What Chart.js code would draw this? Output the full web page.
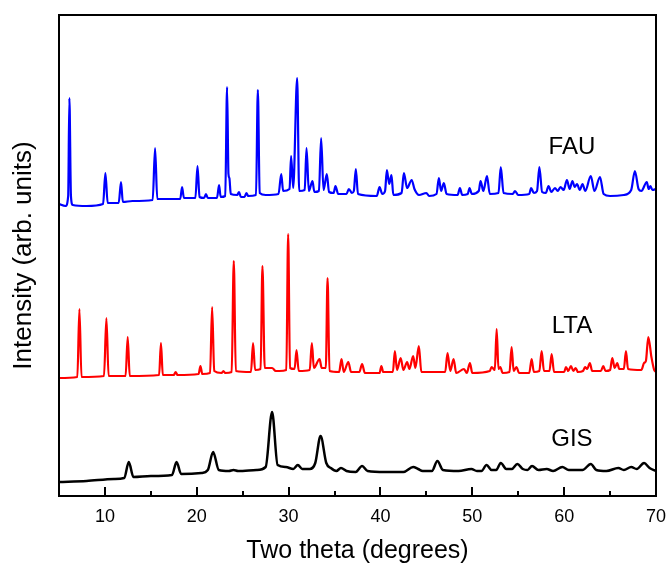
<!DOCTYPE html>
<html>
<head>
<meta charset="utf-8">
<script src="https://cdn.jsdelivr.net/npm/chart.js@4.4.1/dist/chart.umd.min.js"></script>
<style>
  body { margin: 0; background: #fff; overflow: hidden; }
  #wrap { width: 670px; height: 570px; }
</style>
</head>
<body>
<div id="wrap"><canvas id="xrd-chart"></canvas></div>
<script>
// two theta (deg), intensity (arb. units, offset stacked)
var fauPoints = [
  [5.0,292],[5.7,290],[6.0,300],[6.13,398],[6.3,300],[6.5,291],[8.0,290],[9.8,292],[10.05,323],[10.3,293],
  [11.5,293],[11.75,314],[11.95,294],[13.0,295],[15.2,296],[15.46,348],[15.7,297],[18.2,297],[18.4,309],[18.6,298],
  [19.85,298],[20.08,330],[20.3,299],[20.8,298],[21.0,302],[21.2,298],[22.2,298],[22.43,311],[22.6,299],[23.1,300],
  [23.3,409],[23.45,322],[23.55,318],[23.7,302],[24.4,301],[24.6,304],[24.8,299],[25.2,299],[25.4,303],[25.6,300],
  [26.45,301],[26.65,406],[26.85,303],[27.5,301],[28.9,302],[29.2,322],[29.4,305],[30.1,307],[30.27,340],[30.5,308],
  [30.93,418],[31.15,305],[31.75,306],[31.95,348],[32.2,305],[32.6,315],[32.8,304],[33.3,305],[33.54,358],[33.8,306],
  [34.16,322],[34.4,304],[34.9,303],[35.1,310],[35.4,302],[36.3,302],[36.56,307],[36.9,303],[37.1,305],[37.32,327],
  [37.55,302],[39.6,300],[39.9,309],[40.2,302],[40.5,305],[40.7,326],[40.95,312],[41.2,321],[41.4,301],[42.3,303],
  [42.55,323],[42.9,308],[43.4,316],[43.7,307],[44.2,301],[45.0,303],[45.3,300],[46.1,302],[46.36,318],[46.6,305],
  [46.9,313],[47.2,302],[48.4,301],[48.65,308],[48.9,301],[49.5,302],[49.7,308],[49.95,302],[50.7,305],[50.9,315],
  [51.2,305],[51.6,320],[51.9,302],[52.85,303],[53.1,329],[53.4,303],[54.4,302],[54.65,305],[55.0,301],[56.2,302],
  [56.4,308],[56.7,303],[57.05,305],[57.3,329],[57.6,304],[58.0,303],[58.3,310],[58.6,304],[59.0,308],[59.3,305],
  [59.6,309],[59.95,306],[60.3,316],[60.6,307],[60.9,315],[61.15,309],[61.4,312],[61.7,306],[62.0,312],[62.3,305],
  [62.9,320],[63.3,305],[63.9,319],[64.3,302],[65.0,300],[66.5,301],[67.3,306],[67.7,325],[68.1,307],[68.4,305],
  [69.0,314],[69.2,307],[69.4,310],[69.6,306],[70.0,307]
];

var ltaPoints = [
  [5.0,118],[7.0,119],[7.22,187],[7.45,119],[9.9,120],[10.16,178],[10.4,120],[12.25,120],[12.48,159],[12.7,120],
  [15.9,121],[16.1,153],[16.3,121],[17.5,121],[17.7,124],[17.9,121],[20.2,122],[20.4,130],[20.6,122],[21.45,123],
  [21.67,189],[21.9,125],[22.7,123],[22.9,125],[23.1,123],[23.8,124],[24.03,235],[24.25,125],[25.9,124],[26.13,153],
  [26.35,126],[26.95,127],[27.15,230],[27.4,128],[28.2,128],[28.6,125],[29.0,125],[29.75,126],[29.95,262],[30.15,128],
  [30.65,127],[30.86,146],[31.1,125],[32.3,126],[32.53,153],[32.75,128],[33.37,137],[33.6,128],[34.05,128],[34.24,218],
  [34.45,125],[35.5,124],[35.76,137],[36.0,124],[36.5,134],[36.8,124],[37.7,124],[38.0,132],[38.3,123],[39.9,123],
  [40.1,130],[40.3,124],[41.35,124],[41.57,145],[41.8,126],[42.2,138],[42.5,126],[42.9,134],[43.15,127],[43.56,140],
  [43.8,128],[44.18,150],[44.45,124],[47.05,124],[47.3,143],[47.6,125],[47.96,137],[48.25,123],[49.1,127],[49.4,123],
  [49.74,133],[50.0,123],[51.9,125],[52.1,129],[52.45,126],[52.65,167],[52.85,127],[53.05,129],[53.3,123],[54.05,124],
  [54.28,149],[54.5,125],[54.8,129],[55.1,123],[56.2,123],[56.46,137],[56.7,124],[57.3,125],[57.55,145],[57.8,125],
  [58.4,125],[58.64,142],[58.9,124],[60.0,124],[60.2,129],[60.45,125],[60.74,130],[61.0,125],[61.25,128],[61.5,124],
  [62.05,125],[62.27,129],[62.5,127],[62.8,133],[63.05,125],[64.0,125],[64.26,130],[64.5,125],[65.0,126],[65.24,138],
  [65.5,128],[65.78,133],[66.0,127],[66.5,127],[66.73,145],[66.95,127],[68.4,126],[68.7,133],[68.9,135],[69.16,159],
  [69.5,139],[69.8,126],[70.0,124]
];

var gisPoints = [
  [5.0,14],[8.0,15],[11.0,17],[12.1,18],[12.6,34],[13.1,19],[15.0,20],[17.3,21],[17.8,34],[18.3,22],
  [20.5,23],[21.2,26],[21.78,44],[22.4,26],[23.5,25],[24.0,26],[24.5,25],[26.5,26],[27.5,29],[28.2,84],
  [28.8,31],[29.7,29],[30.5,27],[31.0,31],[31.5,27],[32.3,27],[32.9,33],[33.48,60],[34.1,33],[34.6,28],
  [35.2,25],[35.7,28],[36.3,25],[37.3,24],[38.0,30],[38.6,25],[40.5,24],[42.5,24],[43.56,29],[44.1,27],
  [44.6,25],[45.6,25],[46.2,35],[46.8,26],[48.5,25],[49.9,27],[50.5,25],[51.0,25],[51.55,31],[52.1,26],
  [52.6,26],[53.1,33],[53.7,27],[54.3,27],[54.9,32],[55.5,27],[56.0,26],[56.5,30],[57.2,26],[58.1,27],
  [58.8,25],[59.8,29],[60.5,26],[62.0,26],[62.9,32],[63.5,26],[64.6,25],[65.9,28],[66.5,26],[67.3,29],
  [67.9,27],[68.7,33],[69.3,28],[70.0,25]
];

var seriesNames = ['FAU', 'LTA', 'GIS'];
var seriesColors = ['#0000ff', '#ff0000', '#000000'];
var labelTheta = [60.85, 60.85, 60.85];
var labelLevel = [349, 170, 57];

var xTickValues = [10, 20, 30, 40, 50, 60, 70];
var xMinorValues = [15, 25, 35, 45, 55, 65];

function toXY(points) {
  return points.map(function (p) { return { x: p[0], y: p[1] }; });
}

// box frame, inward ticks and the pattern names
var framePlugin = {
  id: 'frame',
  afterDraw: function (chart) {
    var ctx = chart.ctx;
    var a = chart.chartArea;
    var xs = chart.scales.x;
    var ys = chart.scales.y;
    ctx.save();
    ctx.strokeStyle = '#000';
    ctx.lineWidth = 2;
    ctx.strokeRect(a.left, a.top, a.right - a.left, a.bottom - a.top);
    ctx.beginPath();
    xTickValues.forEach(function (v) {
      var px = Math.round(xs.getPixelForValue(v));
      ctx.moveTo(px, a.bottom);
      ctx.lineTo(px, a.bottom - 9);
    });
    xMinorValues.forEach(function (v) {
      var px = Math.round(xs.getPixelForValue(v));
      ctx.moveTo(px, a.bottom);
      ctx.lineTo(px, a.bottom - 5);
    });
    ctx.stroke();

    ctx.fillStyle = '#000';
    ctx.font = '24px "Liberation Sans", Arial, sans-serif';
    ctx.textAlign = 'center';
    ctx.textBaseline = 'middle';
    seriesNames.forEach(function (n, i) {
      ctx.fillText(n, xs.getPixelForValue(labelTheta[i]), ys.getPixelForValue(labelLevel[i]));
    });
    ctx.restore();
  }
};

var allPoints = [fauPoints, ltaPoints, gisPoints];

var chart = new Chart(document.getElementById('xrd-chart').getContext('2d'), {
  type: 'line',
  data: {
    datasets: allPoints.map(function (pts, i) {
      return {
        label: seriesNames[i],
        data: toXY(pts),
        borderColor: seriesColors[i],
        backgroundColor: seriesColors[i],
        borderWidth: i === 2 ? 2.5 : 2.2,
        pointRadius: 0,
        cubicInterpolationMode: 'monotone',
        fill: false
      };
    })
  },
  options: {
    responsive: true,
    maintainAspectRatio: false,
    animation: false,
    layout: { padding: { top: 15, right: 14, left: 0, bottom: 0 } },
    plugins: {
      legend: { display: false },
      tooltip: { enabled: false }
    },
    scales: {
      x: {
        type: 'linear',
        min: 5,
        max: 70,
        grid: { display: false, drawTicks: false },
        border: { display: false },
        afterBuildTicks: function (s) {
          s.ticks = xTickValues.map(function (v) { return { value: v }; });
        },
        afterFit: function (s) {
          s.height = 74;
          s.paddingRight = 0;
          s.paddingLeft = 0;
        },
        ticks: {
          color: '#000',
          padding: 10,
          maxRotation: 0,
          font: { family: '"Liberation Sans", Arial, sans-serif', size: 18 }
        },
        title: {
          display: true,
          text: 'Two theta (degrees)',
          color: '#000',
          padding: { top: 0, bottom: 4 },
          font: { family: '"Liberation Sans", Arial, sans-serif', size: 25 }
        }
      },
      y: {
        min: 0,
        max: 481,
        grid: { display: false, drawTicks: false },
        border: { display: false },
        ticks: { display: false },
        afterFit: function (s) { s.width = 59; },
        title: {
          display: true,
          text: 'Intensity (arb. units)',
          color: '#000',
          padding: { top: 8, bottom: 0 },
          font: { family: '"Liberation Sans", Arial, sans-serif', size: 26 }
        }
      }
    }
  },
  plugins: [framePlugin]
});
</script>
</body>
</html>
